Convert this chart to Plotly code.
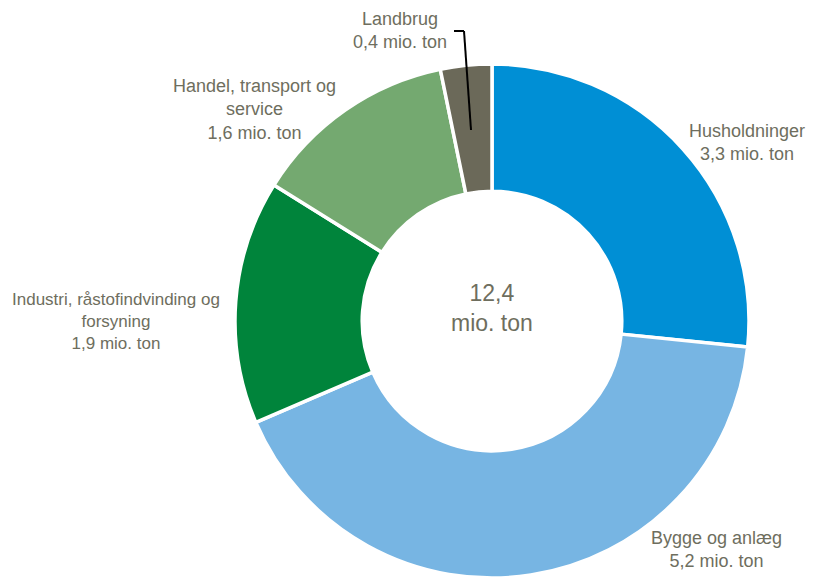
import plotly.graph_objects as go

W, H = 814, 577
OFF = 8  # page body margin offset

categories = ["Husholdninger", "Bygge og anlæg", "Industri, råstofindvinding og forsyning",
              "Handel, transport og service", "Landbrug"]
display_names = ["Husholdninger", "Bygge og anlæg", "Industri, råstofindvinding og<br>forsyning",
                 "Handel, transport og<br>service", "Landbrug"]
values = [3.3, 5.2, 1.9, 1.6, 0.4]
total_label = "12,4"
unit = "mio. ton"
colors = ["#008FD5", "#77B5E3", "#00843B", "#74A970", "#6B6959"]

TEXT_COLOR = "#6E6E5E"
FONT = "Liberation Sans Narrow, Arial Narrow, Liberation Sans, Arial, sans-serif"


def fmt(v):
    return f"{v:.1f}".replace(".", ",")


def px(x):
    return (x - OFF) / W


def py(y):
    return (H - (y - OFF)) / H


CX, CY, R = 492, 321, 257

fig = go.Figure(go.Pie(
    labels=categories,
    values=values,
    hole=0.505,
    sort=False,
    direction="clockwise",
    rotation=0,
    textinfo="none",
    hoverinfo="label+value",
    marker=dict(colors=colors, line=dict(color="white", width=3.5)),
    domain=dict(x=[px(CX - R - 6), px(CX + R + 6)], y=[py(CY + R), py(CY - R)]),
    showlegend=False,
))

# label anchor positions (page pixel centres) and sizes
label_pos = [(747, 142), (716, 549), (116, 321), (254, 110), (400, 30)]
label_size = [18, 18, 17, 18, 18]

annotations = []
for name, v, (x, y), s in zip(display_names, values, label_pos, label_size):
    annotations.append(dict(
        x=px(x), y=py(y), xref="paper", yref="paper",
        text=f"{name}<br>{fmt(v)} {unit}", showarrow=False,
        font=dict(family=FONT, size=s, color=TEXT_COLOR),
        xanchor="center", yanchor="middle", align="center",
    ))
annotations.append(dict(
    x=px(492), y=py(308), xref="paper", yref="paper",
    text=f"{total_label}<br>{unit}", showarrow=False,
    font=dict(family=FONT, size=23, color=TEXT_COLOR),
    xanchor="center", yanchor="middle", align="center",
))

shapes = [
    dict(type="line", xref="paper", yref="paper", x0=px(454), y0=py(31), x1=px(464), y1=py(31),
         line=dict(color="black", width=2)),
    dict(type="line", xref="paper", yref="paper", x0=px(464), y0=py(31), x1=px(471), y1=py(130),
         line=dict(color="black", width=2)),
]

fig.update_layout(
    width=W, height=H,
    margin=dict(l=0, r=0, t=0, b=0),
    paper_bgcolor="white",
    plot_bgcolor="white",
    annotations=annotations,
    shapes=shapes,
)

fig.write_html("out.html")
